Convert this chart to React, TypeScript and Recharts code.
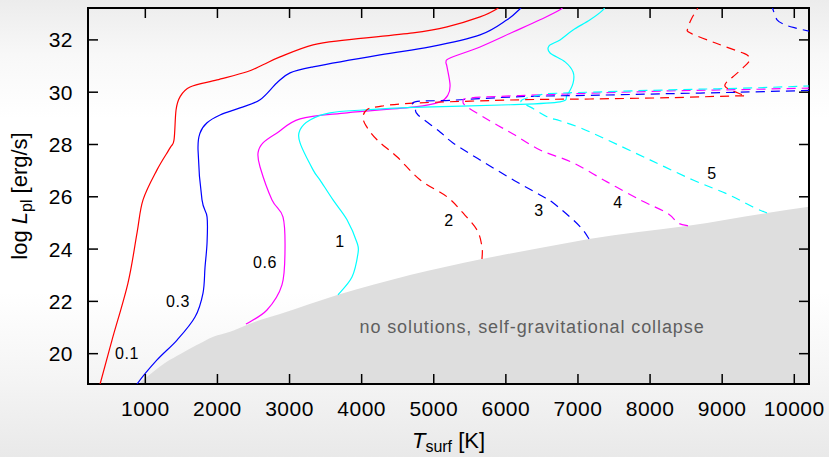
import React from 'react';
import {
  ComposedChart,
  XAxis,
  YAxis,
  Line,
  Area,
  ReferenceArea,
  ReferenceDot,
} from 'recharts';

// Axis ranges (surface temperature in K, log luminosity in erg/s)
const X_MIN = 205;
const X_MAX = 10204;
const Y_MIN = 18.84;
const Y_MAX = 33.22;
const X_TICKS = [1000, 2000, 3000, 4000, 5000, 6000, 7000, 8000, 9000, 10000];
const Y_TICKS = [20, 22, 24, 26, 28, 30, 32];

// Lower limit of the solution space: below it the envelope collapses
const COLLAPSE_EDGE: [number, number][] = [
  [903, 18.84], [1111, 19.31], [1297, 19.69], [1481, 19.98], [1713, 20.33],
  [1943, 20.65], [2175, 20.84], [2406, 21.1], [2636, 21.33], [2868, 21.52],
  [3672, 22.25], [5669, 23.62], [6473, 24.04], [7153, 24.39], [8526, 24.89],
  [9621, 25.38], [10204, 25.62],
];

// Contours, solid family
const C_01: [number, number][] = [
  [359, 18.61], [373, 18.84], [538, 20.52], [760, 22.71], [885, 24.62],
  [968, 25.88], [1162, 27.03], [1343, 27.87], [1398, 28.18], [1426, 29.32],
  [1481, 29.82], [1620, 30.2], [1995, 30.47], [2411, 30.78], [2632, 31.05],
  [2868, 31.35], [3326, 31.81], [3797, 32.0], [4713, 32.27], [5184, 32.5],
  [5642, 32.88], [5878, 33.19], [5920, 33.38],
];
const C_03: [number, number][] = [
  [857, 18.61], [885, 18.84], [1162, 19.76], [1440, 20.52], [1689, 21.4], [1800, 22.32],
  [1828, 23.31], [1856, 24.24], [1856, 25.23], [1786, 25.88], [1731, 27.79],
  [1759, 28.44], [1856, 28.83], [2036, 29.13], [2313, 29.4], [2591, 29.71],
  [2826, 30.36], [3007, 30.74], [3326, 30.97], [4255, 31.43], [4948, 31.73],
  [5642, 32.19], [6017, 32.77], [6197, 33.19], [6253, 33.38],
];
const C_06: [number, number][] = [
  [2396, 21.13], [2687, 21.67], [2895, 22.63], [2937, 23.97], [2909, 25.23],
  [2757, 25.88], [2591, 27.14], [2563, 27.68], [2632, 28.06], [2826, 28.44],
  [3146, 28.98], [3797, 29.21], [4740, 29.44], [5087, 29.63], [5198, 29.9],
  [5226, 30.28], [5184, 30.97], [5170, 31.16], [5226, 31.31], [5642, 31.73],
  [6100, 32.3], [6474, 32.77], [6751, 33.15], [6821, 33.38],
];
const C_1: [number, number][] = [
  [3672, 22.25], [3866, 22.93], [3950, 23.85], [3936, 24.24], [3797, 25.12],
  [3603, 25.88], [3423, 26.64], [3326, 27.03], [3146, 28.06], [3146, 28.56],
  [3284, 28.94], [3561, 29.21], [4019, 29.32], [4713, 29.42], [6058, 29.52],
  [6751, 29.63], [6848, 29.89], [6932, 30.35], [6932, 30.77], [6821, 31.16],
  [6613, 31.5], [6599, 31.77], [6751, 32.0], [6932, 32.38], [7168, 32.77],
  [7348, 33.15], [7390, 33.38],
];

// Contours, dashed family
const C_2: [number, number][] = [
  [5669, 23.62], [5669, 24.08], [5600, 24.73], [5392, 25.42], [5184, 26.0],
  [4809, 26.65], [4490, 27.53], [4213, 28.18], [4060, 28.72], [4019, 29.06],
  [4074, 29.33], [4213, 29.44], [4712, 29.58], [6196, 29.71], [7167, 29.74],
  [8276, 29.79], [9205, 29.86], [9316, 29.84], [9219, 29.97], [9108, 30.09],
  [9038, 30.24], [9066, 30.4], [9149, 30.59], [9288, 30.93], [9385, 31.24],
  [9343, 31.43], [9246, 31.54], [8899, 31.89], [8553, 32.27], [8525, 32.46],
  [8580, 32.84], [8649, 33.15], [8677, 33.38],
];
const C_3: [number, number][] = [
  [7153, 24.39], [7070, 24.73], [6932, 25.12], [6654, 25.77], [6474, 26.07],
  [6100, 26.65], [5642, 27.41], [5267, 28.06], [5087, 28.48], [4782, 29.13],
  [4747, 29.36], [4740, 29.63], [5226, 29.69], [6196, 29.83], [7167, 29.88],
  [8180, 29.94], [9247, 30.0], [10246, 30.07],
];
const C_3_UPPER: [number, number][] = [
  [9678, 33.38], [9706, 33.15], [9761, 32.77], [9872, 32.58], [10010, 32.46],
  [10246, 32.31],
];
const C_4: [number, number][] = [
  [8526, 24.89], [8387, 25.0], [8235, 25.38], [7861, 25.88], [7403, 26.57],
  [6932, 27.3], [6474, 27.79], [6100, 28.4], [5781, 28.9], [5462, 29.44],
  [5406, 29.65], [5503, 29.78], [6196, 29.87], [7167, 29.96], [8276, 30.05],
  [9247, 30.1], [10246, 30.16],
];
const C_5: [number, number][] = [
  [9621, 25.38], [9427, 25.61], [9067, 26.11], [8596, 26.64], [7999, 27.41],
  [7403, 28.18], [7029, 28.64], [6751, 28.91], [6571, 29.06], [6363, 29.4],
  [6210, 29.67], [6474, 29.9], [6710, 29.96], [8276, 30.09], [9247, 30.15],
  [10246, 30.24],
];

// Contour level labels, placed in data coordinates
const LEVEL_LABELS: { text: string; x: number; y: number }[] = [
  { text: '0.1', x: 746, y: 20.03 },
  { text: '0.3', x: 1453, y: 22.02 },
  { text: '0.6', x: 2660, y: 23.51 },
  { text: '1', x: 3700, y: 24.31 },
  { text: '2', x: 5212, y: 25.12 },
  { text: '3', x: 6460, y: 25.5 },
  { text: '4', x: 7556, y: 25.8 },
  { text: '5', x: 8860, y: 26.91 },
];
const REGION_NOTE = { text: 'no solutions, self-gravitational collapse', x: 6363, y: 21.02 };

const toPoints = (rows: [number, number][]) => rows.map(([x, y]) => ({ x, y }));

// Layout
const W = 829;
const H = 457;
const MARGIN = { top: 8, right: 20, bottom: 0, left: 0 };
const Y_AXIS_W = 88;
const X_AXIS_H = 73;
const PLOT_TOP = MARGIN.top;
const PLOT_RIGHT = W - MARGIN.right;
const TICK_LEN = 10;
const FONT = '"Liberation Sans", Arial, Helvetica, sans-serif';

// Catmull-Rom style smoothing through every point (works for paths that fold back in x)
function throughPoints(context: any) {
  let pts: [number, number][] = [];
  return {
    areaStart() {},
    areaEnd() {},
    lineStart() {
      pts = [];
    },
    point(x: number, y: number) {
      pts.push([+x, +y]);
    },
    lineEnd() {
      const n = pts.length;
      if (!n) return;
      context.moveTo(pts[0][0], pts[0][1]);
      if (n === 2) {
        context.lineTo(pts[1][0], pts[1][1]);
        return;
      }
      for (let i = 0; i < n - 1; i++) {
        const p0 = pts[Math.max(i - 1, 0)];
        const p1 = pts[i];
        const p2 = pts[i + 1];
        const p3 = pts[Math.min(i + 2, n - 1)];
        context.bezierCurveTo(
          p1[0] + (p2[0] - p0[0]) / 6,
          p1[1] + (p2[1] - p0[1]) / 6,
          p2[0] - (p3[0] - p1[0]) / 6,
          p2[1] - (p3[1] - p1[1]) / 6,
          p2[0],
          p2[1]
        );
      }
    },
  };
}

const BottomTick = (props: any) => {
  const { x, y, payload } = props;
  return (
    <g>
      <line x1={x} y1={y} x2={x} y2={y - TICK_LEN} stroke="#000" strokeWidth={1.5} />
      <line x1={x} y1={PLOT_TOP} x2={x} y2={PLOT_TOP + TICK_LEN} stroke="#000" strokeWidth={1.5} />
      <text x={x} y={y + 32} textAnchor="middle" fontSize={21} fontFamily={FONT} fill="#000" letterSpacing={0.5}>
        {payload.value}
      </text>
    </g>
  );
};

const LeftTick = (props: any) => {
  const { x, y, payload } = props;
  return (
    <g>
      <line x1={x} y1={y} x2={x + TICK_LEN} y2={y} stroke="#000" strokeWidth={1.5} />
      <line x1={PLOT_RIGHT} y1={y} x2={PLOT_RIGHT - TICK_LEN} y2={y} stroke="#000" strokeWidth={1.5} />
      <text x={x - 15} y={y + 7.5} textAnchor="end" fontSize={21} fontFamily={FONT} fill="#000" letterSpacing={0.5}>
        {payload.value}
      </text>
    </g>
  );
};

const XTitle = (props: any) => {
  const vb = props.viewBox || {};
  const cx = vb.x + vb.width / 2;
  return (
    <text x={cx} y={448} textAnchor="middle" fontSize={22} fontFamily={FONT} fill="#000">
      <tspan fontStyle="italic">T</tspan>
      <tspan fontSize={16} dy={4}>surf</tspan>
      <tspan dy={-4}> [K]</tspan>
    </text>
  );
};

const YTitle = (props: any) => {
  const vb = props.viewBox || {};
  const cy = vb.y + vb.height / 2;
  const cx = 27;
  return (
    <text
      x={cx}
      y={cy}
      transform={`rotate(-90, ${cx}, ${cy})`}
      textAnchor="middle"
      fontSize={22}
      fontFamily={FONT}
      fill="#000"
    >
      log <tspan fontStyle="italic">L</tspan>
      <tspan fontSize={16} dy={5}>pl</tspan>
      <tspan dy={-5}> [erg/s]</tspan>
    </text>
  );
};

const SOLID = [
  { id: 'c01', rows: C_01, color: '#ff0000' },
  { id: 'c03', rows: C_03, color: '#0000ff' },
  { id: 'c06', rows: C_06, color: '#ff00ff' },
  { id: 'c1', rows: C_1, color: '#00ffff' },
];
const DASHED = [
  { id: 'c2', rows: C_2, color: '#ff0000' },
  { id: 'c3', rows: C_3, color: '#0000ff' },
  { id: 'c3u', rows: C_3_UPPER, color: '#0000ff' },
  { id: 'c4', rows: C_4, color: '#ff00ff' },
  { id: 'c5', rows: C_5, color: '#00ffff' },
];

export default function App() {
  return (
    <div
      style={{
        position: 'absolute',
        left: 0,
        top: 0,
        width: W,
        height: H,
        background:
          'linear-gradient(to bottom, #ececec 0%, #f8f8f8 12%, #ffffff 26%, #ffffff 64%, #f5f5f5 82%, #e9e9e9 100%)',
      }}
    >
      <ComposedChart width={W} height={H} margin={MARGIN}>
        <Area
          data={toPoints(COLLAPSE_EDGE)}
          dataKey="y"
          type="monotone"
          baseValue={Y_MIN}
          stroke="none"
          fill="#dedede"
          fillOpacity={1}
          isAnimationActive={false}
          dot={false}
          activeDot={false}
        />
        {SOLID.map((s) => (
          <Line
            key={s.id}
            data={toPoints(s.rows)}
            dataKey="y"
            type={throughPoints as any}
            stroke={s.color}
            strokeWidth={1.2}
            dot={false}
            activeDot={false}
            isAnimationActive={false}
          />
        ))}
        {DASHED.map((s) => (
          <Line
            key={s.id}
            data={toPoints(s.rows)}
            dataKey="y"
            type={throughPoints as any}
            stroke={s.color}
            strokeWidth={1.2}
            strokeDasharray="9 6"
            dot={false}
            activeDot={false}
            isAnimationActive={false}
          />
        ))}
        <XAxis
          type="number"
          dataKey="x"
          domain={[X_MIN, X_MAX]}
          ticks={X_TICKS}
          allowDataOverflow
          height={X_AXIS_H}
          tickSize={0}
          tickMargin={0}
          tickLine={false}
          axisLine={false}
          tick={BottomTick}
          interval={0}
          label={<XTitle />}
        />
        <YAxis
          type="number"
          domain={[Y_MIN, Y_MAX]}
          ticks={Y_TICKS}
          allowDataOverflow
          width={Y_AXIS_W}
          tickSize={0}
          tickMargin={0}
          tickLine={false}
          axisLine={false}
          tick={LeftTick}
          interval={0}
          label={<YTitle />}
        />
        {LEVEL_LABELS.map((l) => (
          <ReferenceDot
            key={l.text}
            x={l.x}
            y={l.y}
            r={0}
            ifOverflow="visible"
            shape={(p: any) => (
              <text
                x={p.cx}
                y={p.cy + 5.8}
                textAnchor="middle"
                fontSize={16}
                letterSpacing={0.6}
                fontFamily={FONT}
                fill="#000"
              >
                {l.text}
              </text>
            )}
          />
        ))}
        <ReferenceDot
          x={REGION_NOTE.x}
          y={REGION_NOTE.y}
          r={0}
          ifOverflow="visible"
          shape={(p: any) => (
            <text
              x={p.cx}
              y={p.cy + 6}
              textAnchor="middle"
              fontSize={18}
              letterSpacing={0.9}
              fontFamily={FONT}
              fill="#5f5f5f"
            >
              {REGION_NOTE.text}
            </text>
          )}
        />
        <ReferenceArea
          x1={X_MIN}
          x2={X_MAX}
          y1={Y_MIN}
          y2={Y_MAX}
          fill="none"
          fillOpacity={0}
          stroke="#000"
          strokeWidth={2}
          ifOverflow="visible"
        />
      </ComposedChart>
    </div>
  );
}
